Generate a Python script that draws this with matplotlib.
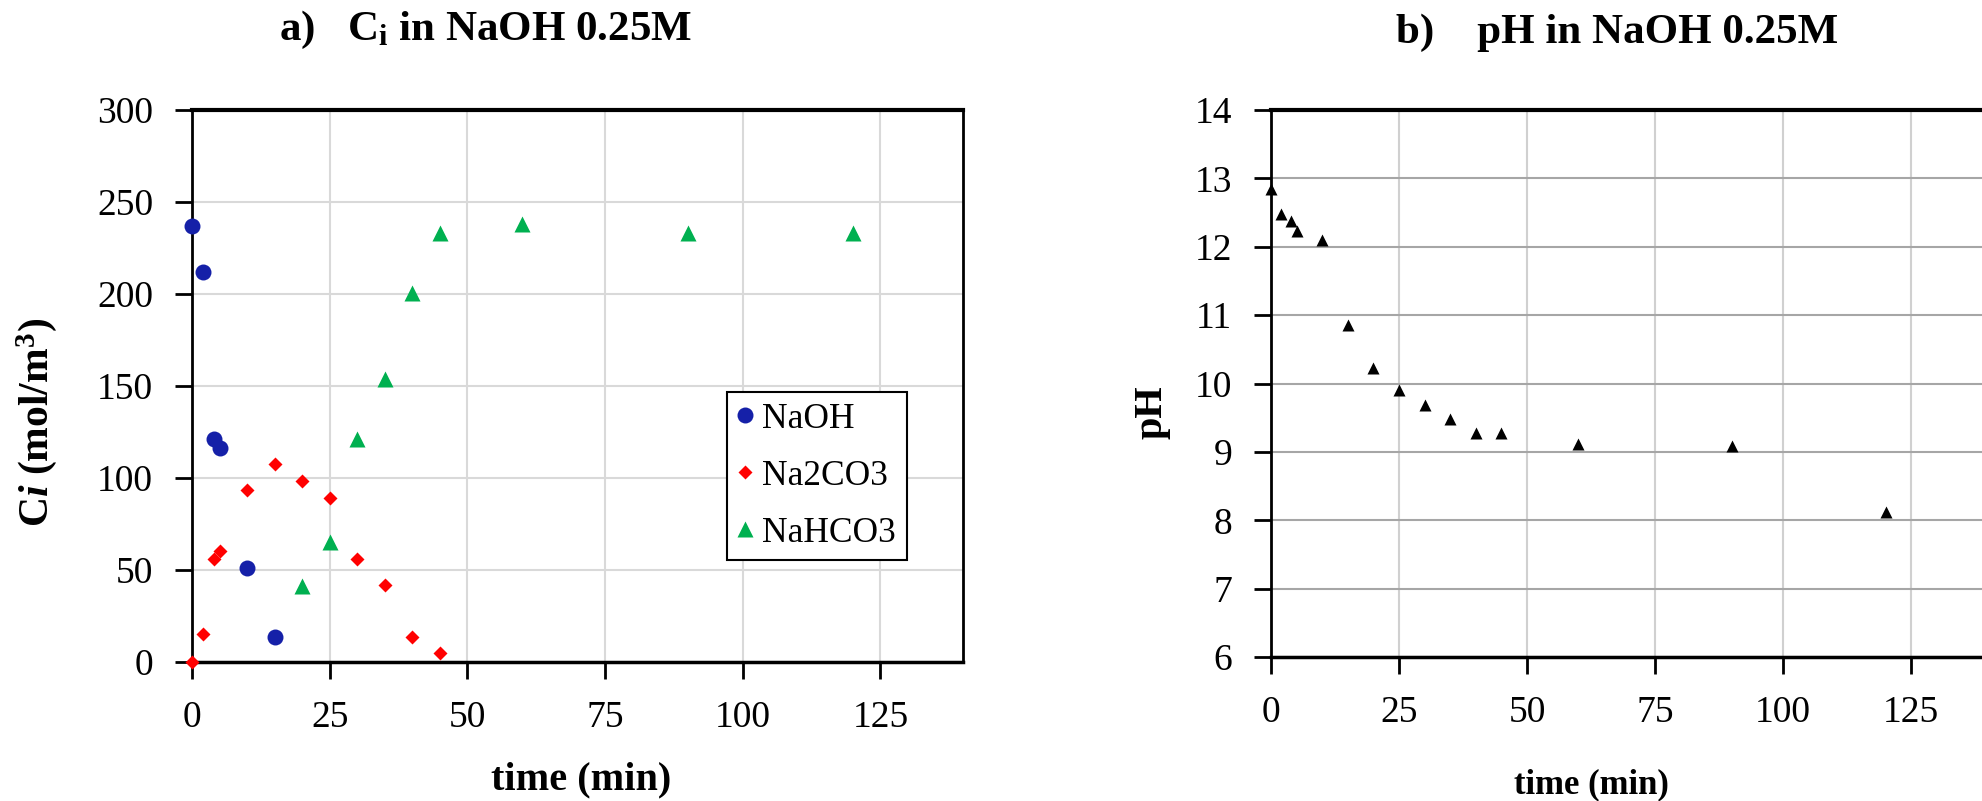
import matplotlib
matplotlib.use("Agg")
import matplotlib.pyplot as plt

plt.rcParams.update({
    "font.family": "serif",
    "font.serif": ["Liberation Serif", "DejaVu Serif"],
    "mathtext.fontset": "custom",
    "mathtext.rm": "Liberation Serif",
    "mathtext.bf": "Liberation Serif:bold",
    "mathtext.it": "Liberation Serif:italic:bold",
})

# ---- data ----
t_naoh = [0, 2, 4, 5, 10, 15]
c_naoh = [237, 212, 121, 116.5, 51, 13.5]

t_na2co3 = [0, 2, 4, 5, 10, 15, 20, 25, 30, 35, 40, 45]
c_na2co3 = [0, 15.2, 55.8, 60.5, 93.5, 107.4, 98.2, 89, 55.8, 41.7, 13.8, 4.7]

t_nahco3 = [20, 25, 30, 35, 40, 45, 60, 90, 120]
c_nahco3 = [41.5, 65, 121, 154, 200.7, 233, 238, 233, 233]

t_ph = [0, 2, 4, 5, 10, 15, 20, 25, 30, 35, 40, 45, 60, 90, 120]
ph = [12.84, 12.48, 12.37, 12.23, 12.10, 10.85, 10.22, 9.90, 9.68, 9.48,
      9.28, 9.28, 9.12, 9.09, 8.12]

x_ticks = [0, 25, 50, 75, 100, 125]
ci_ticks = [0, 50, 100, 150, 200, 250, 300]
ph_ticks = [6, 7, 8, 9, 10, 11, 12, 13, 14]

W, H = 1982, 801
fig = plt.figure(figsize=(W / 100, H / 100), dpi=100)


def px_axes(x0, x1, ytop, ybot):
    return fig.add_axes([x0 / W, 1 - ybot / H, (x1 - x0) / W, (ybot - ytop) / H])


def style_axes(ax, hgrid, vgrid):
    ax.set_axisbelow(True)
    ax.grid(True, axis="y", color=hgrid, linewidth=1.5)
    ax.grid(True, axis="x", color=vgrid, linewidth=1.5)
    ax.tick_params(direction="out", length=12, width=2, labelsize=27, pad=16)
    ax.spines["top"].set_linewidth(3)
    ax.spines["bottom"].set_linewidth(2.5)
    ax.spines["left"].set_linewidth(2)
    ax.spines["right"].set_linewidth(2)


# ---- a) concentrations ----
ax1 = px_axes(192, 963, 110, 662)
ax1.plot(t_naoh, c_naoh, "o", color="#1520a8", ms=11.5, mec="none", label="NaOH", clip_on=False, zorder=3)
ax1.plot(t_na2co3, c_na2co3, "D", color="#ff0000", ms=7.3, mec="none", label="Na2CO3", clip_on=False, zorder=3)
ax1.plot(t_nahco3, c_nahco3, "^", color="#00b050", ms=11, mec="none", label="NaHCO3", clip_on=False, zorder=3)
ax1.set_xlim(0, 140)
ax1.set_ylim(0, 300)
ax1.set_xticks(x_ticks)
ax1.set_yticks(ci_ticks)
style_axes(ax1, "#d9d9d9", "#d9d9d9")
leg = ax1.legend(loc="upper left", bbox_to_anchor=(0.694, 0.489), borderaxespad=0,
                 fontsize=25.5, frameon=True, fancybox=False, framealpha=1,
                 edgecolor="black", handlelength=0.4, handletextpad=0.3,
                 labelspacing=0.68, borderpad=0.3)
leg.get_frame().set_linewidth(1.5)

fig.text(485 / W, 1 - 30 / H, r"a)   C$_\mathbf{i}$ in NaOH 0.25M", ha="center", va="center",
         fontsize=31, fontweight="bold")
fig.text(37 / W, 1 - 422 / H, r"C$\mathit{i}$ (mol/m$^\mathbf{3}$)", ha="center", va="center",
         rotation=90, fontsize=30, fontweight="bold")
fig.text(581 / W, 1 - 780 / H, "time (min)", ha="center", va="center", fontsize=29, fontweight="bold")

# ---- b) pH ----
ax2 = px_axes(1271, 1988, 110, 657)
ax2.plot(t_ph, ph, "^", color="black", ms=8.8, mec="none", clip_on=False, zorder=3)
ax2.set_xlim(0, 140)
ax2.set_ylim(6, 14)
ax2.set_xticks(x_ticks)
ax2.set_yticks(ph_ticks)
style_axes(ax2, "#a6a6a6", "#d0d0d0")

fig.text(1617 / W, 1 - 33 / H, "b)    pH in NaOH 0.25M", ha="center", va="center",
         fontsize=31, fontweight="bold")
fig.text(1152 / W, 1 - 412 / H, "pH", ha="center", va="center", rotation=90,
         fontsize=29, fontweight="bold")
fig.text(1591 / W, 1 - 785 / H, "time (min)", ha="center", va="center", fontsize=25, fontweight="bold")

fig.savefig("out.png", dpi=100)
